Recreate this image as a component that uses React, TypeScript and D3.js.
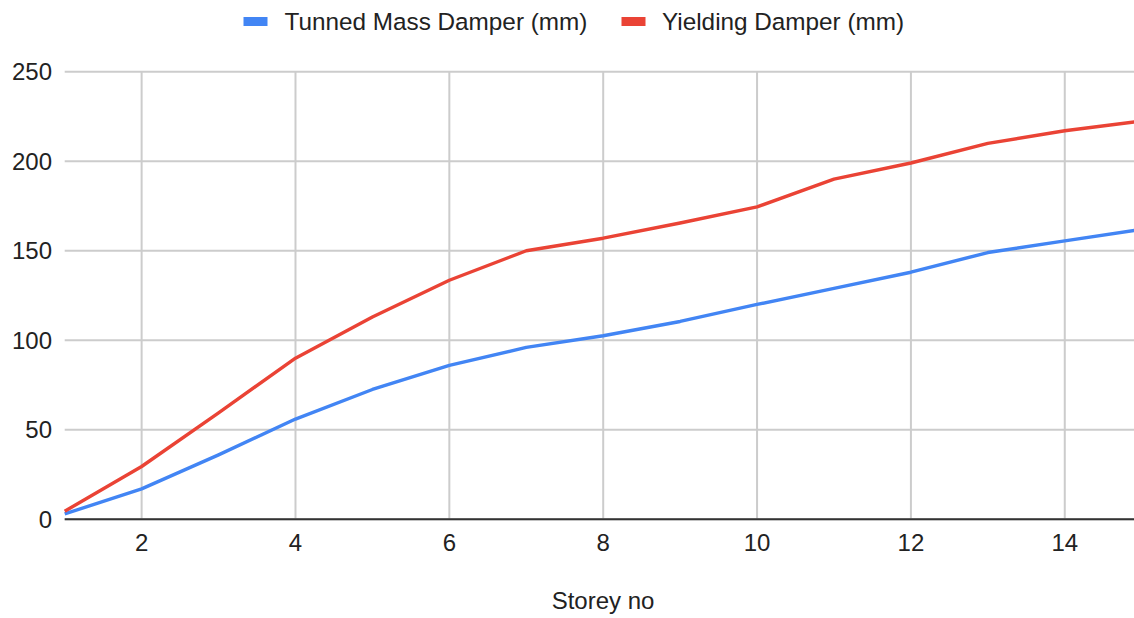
import React from "react";
import * as d3 from "d3";

const storeys = [1, 2, 3, 4, 5, 6, 7, 8, 9, 10, 11, 12, 13, 14, 15];
const tunedMass = [3, 17, 36, 56, 72.5, 86, 96, 102.5, 110.5, 120, 129, 138, 149, 155.5, 162];
const yielding = [4.5, 29.5, 59.5, 90, 113, 133.5, 150, 157, 165.5, 174.5, 190, 199, 210, 217, 222.5];
const xTicks = [2, 4, 6, 8, 10, 12, 14];
const yTicks = [0, 50, 100, 150, 200, 250];
const seriesNames = ["Tunned Mass Damper (mm)", "Yielding Damper (mm)"];
const seriesColors = ["#4285F4", "#EA4335"];

const W = 1134;
const H = 618;
const FONT = "'Liberation Sans', Arial, sans-serif";

export default function App() {
  const x = d3.scaleLinear().domain([1, 15]).range([64.7, 1141.7]);
  const y = d3.scaleLinear().domain([0, 250]).range([519.3, 71.7]);
  const plotLeft = 64.7;
  const plotRight = W;

  const line = d3
    .line<number>()
    .x((_, i) => x(storeys[i]))
    .y((d) => y(d));

  const series = [tunedMass, yielding];

  return (
    <svg
      width={W}
      height={H}
      style={{ position: "absolute", left: 0, top: 0, background: "#fff" }}
      fontFamily={FONT}
    >
      <defs>
        <clipPath id="plotclip">
          <rect x={plotLeft - 2} y={60} width={plotRight - plotLeft + 2} height={470} />
        </clipPath>
      </defs>
      <rect x={0} y={0} width={W} height={H} fill="#fff" />
      {yTicks.map((t) => (
        <line
          key={"h" + t}
          x1={plotLeft}
          x2={plotRight}
          y1={y(t)}
          y2={y(t)}
          stroke="#cccccc"
          strokeWidth={2}
        />
      ))}
      {xTicks.map((t) => (
        <line
          key={"v" + t}
          x1={x(t)}
          x2={x(t)}
          y1={y(250)}
          y2={y(0)}
          stroke="#cccccc"
          strokeWidth={2}
        />
      ))}
      {yTicks.map((t) => (
        <text
          key={"yl" + t}
          x={52}
          y={y(t)}
          textAnchor="end"
          dominantBaseline="central"
          fontSize={24}
          fill="#222"
        >
          {t}
        </text>
      ))}
      {xTicks.map((t) => (
        <text
          key={"xl" + t}
          x={x(t)}
          y={551}
          textAnchor="middle"
          fontSize={24}
          fill="#222"
        >
          {t}
        </text>
      ))}
      <g clipPath="url(#plotclip)">
        {series.map((s, i) => (
          <path
            key={"s" + i}
            d={line(s) || ""}
            fill="none"
            stroke={seriesColors[i]}
            strokeWidth={3.4}
            strokeLinejoin="round"
          />
        ))}
      </g>
      <line x1={plotLeft} x2={plotRight} y1={y(0)} y2={y(0)} stroke="#333" strokeWidth={2} />
      <text x={603} y={609} textAnchor="middle" fontSize={24} fill="#222">
        Storey no
      </text>
      <g>
        <rect x={243.5} y={17} width={24} height={9} fill={seriesColors[0]} />
        <text x={284.5} y={21.5} dominantBaseline="central" fontSize={24.3} fill="#222">
          {seriesNames[0]}
        </text>
        <rect x={621.5} y={17} width={24} height={9} fill={seriesColors[1]} />
        <text x={662} y={21.5} dominantBaseline="central" fontSize={24.3} fill="#222">
          {seriesNames[1]}
        </text>
      </g>
    </svg>
  );
}
